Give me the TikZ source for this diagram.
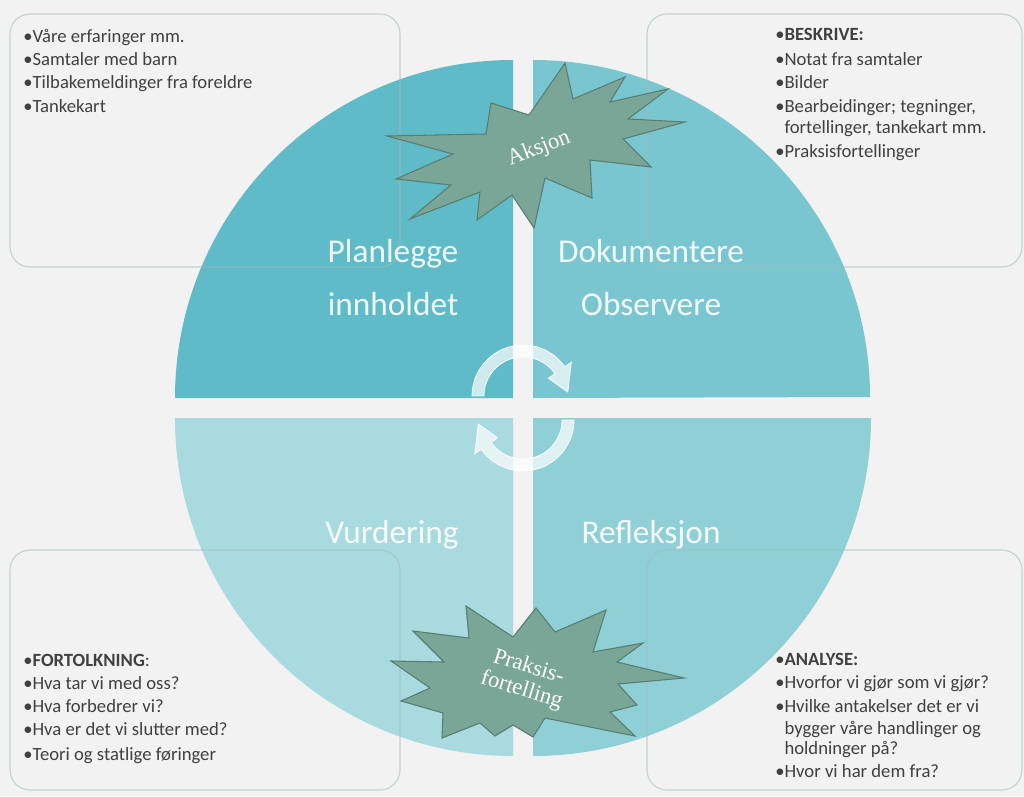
\documentclass[tikz,border=0pt]{standalone}
\usepackage{fontspec}
\setmainfont{Carlito}
\newfontfamily\starfont{Liberation Serif}
\definecolor{bgcol}{HTML}{F2F2F2}
\definecolor{planlcol}{HTML}{5FBBC7}
\definecolor{dokcol}{HTML}{79C6D0}
\definecolor{vurdcol}{HTML}{A8DAE0}
\definecolor{reflcol}{HTML}{8FCFD6}
\definecolor{starcol}{HTML}{7AA697}
\definecolor{starline}{HTML}{587D72}
\definecolor{boxline}{HTML}{A3BBBB}
\definecolor{itemcol}{HTML}{404040}
\tikzset{
  infobox/.style={draw=boxline, line width=0.8pt, rounded corners=15pt, draw opacity=0.6},
  itemtext/.style={anchor=base west, inner sep=0pt, text=itemcol, font=\fontsize{14}{16}\selectfont},
  quadlabel/.style={anchor=base, inner sep=0pt, text=white, text opacity=0.9, font=\fontsize{25}{28}\selectfont},
  burst/.style={fill=starcol, draw=starline, line width=0.8pt, line join=miter},
  bursttext/.style={text=white, inner sep=0pt, font=\starfont\fontsize{17}{20}\selectfont, align=center},
  cyclearrow/.style={fill=white, fill opacity=0.7, draw=white, draw opacity=0.9, line width=0.6pt}
}
\begin{document}
\begin{tikzpicture}[x=0.75pt,y=-0.75pt]
\useasboundingbox (0,0) rectangle (1024,796);
\fill[bgcol] (0,0) rectangle (1024,796);
%
% the four quarters of the circle
\fill[planlcol] (513,398) -- (175,398) arc[start angle=180,end angle=270,radius=338] -- cycle;
\fill[dokcol] (533,398) -- (533,60) arc[start angle=270,end angle=360,radius=337] -- cycle;
\fill[vurdcol] (513,418) -- (175,418) arc[start angle=180,end angle=90,radius=338] -- cycle;
\fill[reflcol] (533,418) -- (871,418) arc[start angle=0,end angle=90,radius=338] -- cycle;
%
% boxes in the corners
\draw[infobox] (10,14) rectangle (400,267);
\draw[infobox] (647,14) rectangle (1022,267);
\draw[infobox] (10,550) rectangle (400,790);
\draw[infobox] (647,550) rectangle (1022,790);
%
% arrows in the middle
\filldraw[cyclearrow] (472,396) arc[start angle=180,end angle=325,radius=51] -- (571.3,362.2) -- (567.8,392) -- (548.4,378.2) -- (554.9,373.6) arc[start angle=325,end angle=180,radius=39] -- cycle;
\filldraw[cyclearrow] (574,420) arc[start angle=0,end angle=145,radius=51] -- (474.7,453.8) -- (478.2,424) -- (497.6,437.8) -- (491.1,442.4) arc[start angle=145,end angle=0,radius=39] -- cycle;
%
% quarter labels
\node[quadlabel] (plan1) at (393,262) {Planlegge};
\node[quadlabel] (plan2) at (393,315) {innholdet};
\node[quadlabel] (dok1) at (651,262) {Dokumentere};
\node[quadlabel] (dok2) at (651,315) {Observere};
\node[quadlabel] (vurd) at (392,543) {Vurdering};
\node[quadlabel] (refl) at (651,543) {Refleksjon};
%
% stars
\draw[burst] (565,63) -- (573,99) -- (625,77) -- (610,102) -- (668,89) -- (628,119) -- (685,122) -- (623,139) -- (651,167) -- (590,160) -- (592,198) -- (545,178) -- (534,228) -- (512,195) -- (477,220) -- (480,192) -- (410,219) -- (451,185) -- (396,179) -- (453,154) -- (387,136) -- (486,134) -- (491,103) -- (529,115) -- cycle;
\node[bursttext, rotate=21] (aksjon) at (539,149) {Aksjon};
\draw[burst] (466,606) -- (513,637) -- (536,608) -- (555,632) -- (606,610) -- (593,652) -- (643,643) -- (617,662) -- (684,678) -- (618,684) -- (637,705) -- (610,712) -- (635,736) -- (545,718) -- (533,737) -- (513,725) -- (495,736) -- (480,723) -- (442,738) -- (443,713) -- (401,701) -- (430,688) -- (391,661) -- (444,662) -- (413,631) -- (469,638) -- cycle;
\node[bursttext, rotate=-17] (praksis) at (525,679) {Praksis-\\[-2pt]fortelling};
%
% text in the boxes
\node[itemtext] (planitem1) at (23,42) {•Våre erfaringer mm.};
\node[itemtext] (planitem2) at (23,65) {•Samtaler med barn};
\node[itemtext] (planitem3) at (23,88) {•Tilbakemeldinger fra foreldre};
\node[itemtext] (planitem4) at (23,112) {•Tankekart};
%
\node[itemtext] (dokitem1) at (775,40) {•\textbf{BESKRIVE:}};
\node[itemtext] (dokitem2) at (775,65) {•Notat fra samtaler};
\node[itemtext] (dokitem3) at (775,88) {•Bilder};
\node[itemtext] (dokitem4) at (775,112) {•Bearbeidinger; tegninger,};
\node[itemtext] (dokitem5) at (775,133) {\phantom{•}fortellinger, tankekart mm.};
\node[itemtext] (dokitem6) at (775,157) {•Praksisfortellinger};
%
\node[itemtext] (vurditem1) at (23,666) {•\textbf{FORTOLKNING}:};
\node[itemtext] (vurditem2) at (23,689) {•Hva tar vi med oss?};
\node[itemtext] (vurditem3) at (23,712) {•Hva forbedrer vi?};
\node[itemtext] (vurditem4) at (23,735) {•Hva er det vi slutter med?};
\node[itemtext] (vurditem5) at (23,760) {•Teori og statlige føringer};
%
\node[itemtext] (reflitem1) at (775,665) {•\textbf{ANALYSE:}};
\node[itemtext] (reflitem2) at (775,688) {•Hvorfor vi gjør som vi gjør?};
\node[itemtext] (reflitem3) at (775,712) {•Hvilke antakelser det er vi};
\node[itemtext] (reflitem4) at (775,734) {\phantom{•}bygger våre handlinger og};
\node[itemtext] (reflitem5) at (775,754) {\phantom{•}holdninger på?};
\node[itemtext] (reflitem6) at (775,777) {•Hvor vi har dem fra?};
%
\end{tikzpicture}
\end{document}
